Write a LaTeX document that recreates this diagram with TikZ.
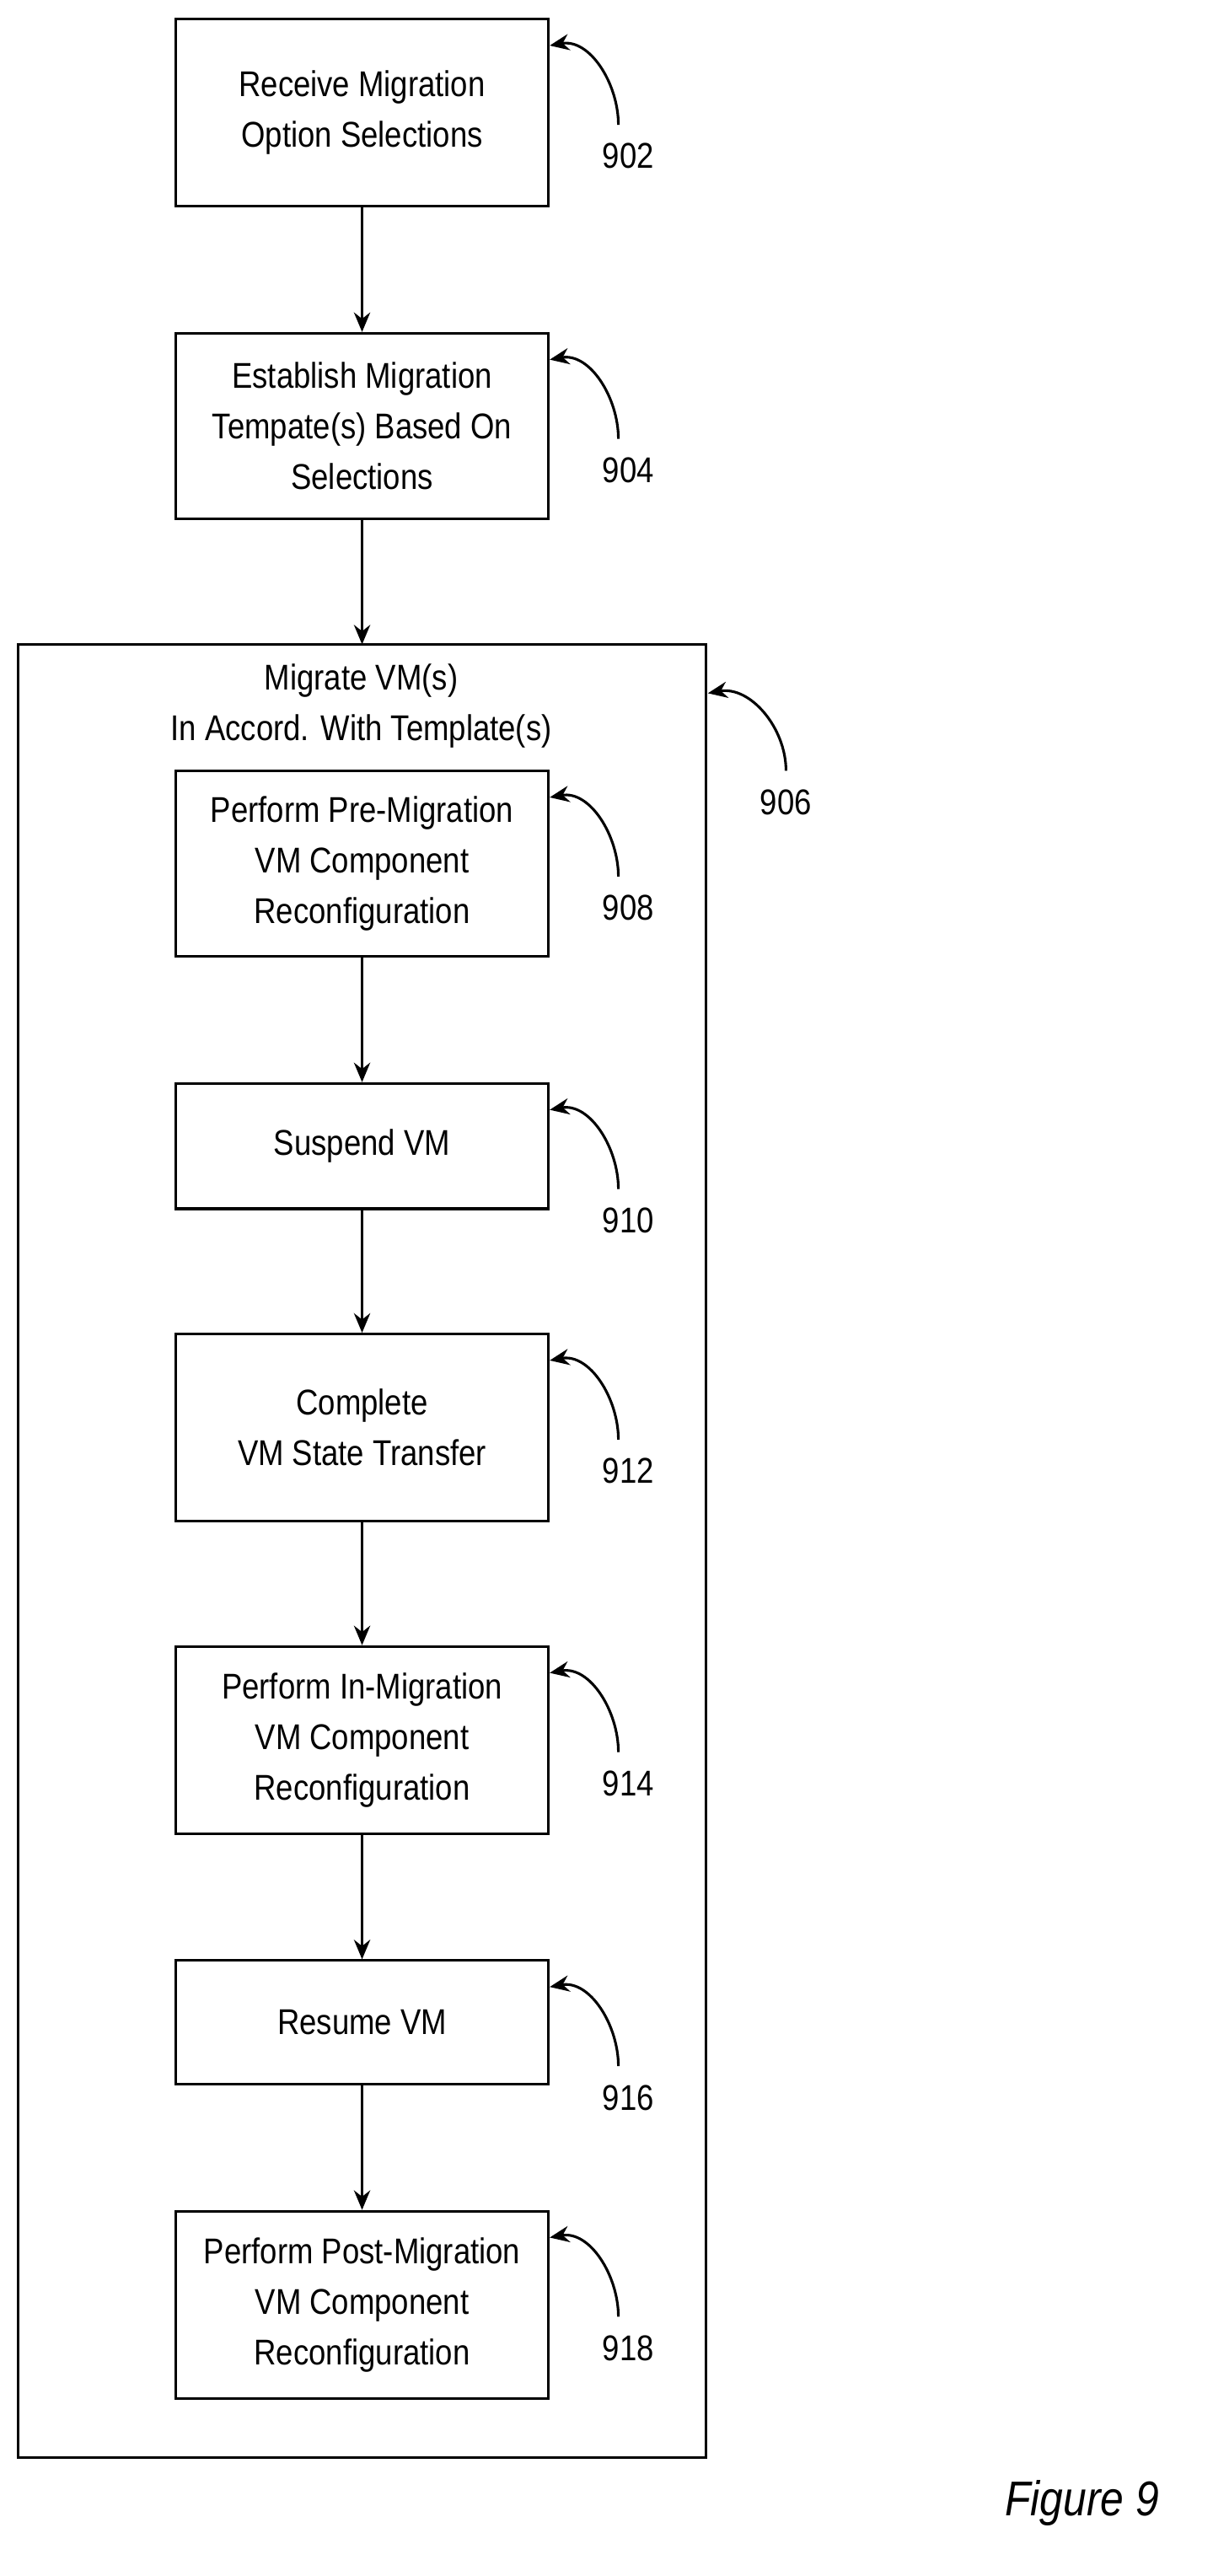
\documentclass[tikz,border=0pt]{standalone}
\usepackage{fontspec}
\setmainfont[FakeStretch=0.86]{Liberation Sans}
\usetikzlibrary{arrows.meta}

\begin{document}
\begin{tikzpicture}[x=1pt,y=-1pt,
    stepbox/.style={draw,line width=1.6pt,minimum width=229pt,align=center,inner sep=0pt,
        font=\fontsize{22}{31}\selectfont},
    flow/.style={-{Stealth[length=12pt,width=10pt]},line width=1.6pt},
    refnum/.style={font=\fontsize{22}{24}\selectfont}]

    \useasboundingbox (0,0) rectangle (745,1583);

    % outer box for the migrate step
    \draw[line width=1.6pt] (11,396) rectangle (434,1510);
    \node[font=\fontsize{22}{31}\selectfont,align=center] (migrate) at (222,434)
        {Migrate VM(s)\\In Accord. With Template(s)};
    \coordinate (outer top) at (222.5,396);
    \coordinate (outer ne) at (435,426);
    \node[refnum] (n906) at (483,493) {906};
    \draw[flow] (n906.north) ++(0,-8) to[out=90,in=10] (outer ne);

    % steps: name / top / height / text / number
    \foreach \nm/\tp/\hg/\txt/\num in {
        s902/11/115/{Receive Migration\\Option Selections}/902,
        s904/204/114/{Establish Migration\\Tempate(s) Based On\\Selections}/904,
        s908/473/114/{Perform Pre-Migration\\VM Component\\Reconfiguration}/908,
        s910/665/77/{Suspend VM}/910,
        s912/819/115/{Complete\\VM State Transfer}/912,
        s914/1011/115/{Perform In-Migration\\VM Component\\Reconfiguration}/914,
        s916/1204/76/{Resume VM}/916,
        s918/1358/115/{Perform Post-Migration\\VM Component\\Reconfiguration}/918} {
        \node[stepbox,minimum height=\hg pt,anchor=north] (\nm) at (222.5,\tp) {\txt};
        \node[refnum] (n\num) at (386,\tp+85) {\num};
        \draw[flow] (n\num.north) ++(-6,-8) to[out=90,in=10] ([yshift=-17pt]\nm.north east);
    }

    \draw[flow] (s902) -- (s904);
    \draw[flow] (s904) -- (outer top);
    \draw[flow] (s908) -- (s910);
    \draw[flow] (s910) -- (s912);
    \draw[flow] (s912) -- (s914);
    \draw[flow] (s914) -- (s916);
    \draw[flow] (s916) -- (s918);

    \node[font=\fontsize{30}{32}\selectfont\itshape] (fig) at (665,1538) {Figure 9};
\end{tikzpicture}
\end{document}
